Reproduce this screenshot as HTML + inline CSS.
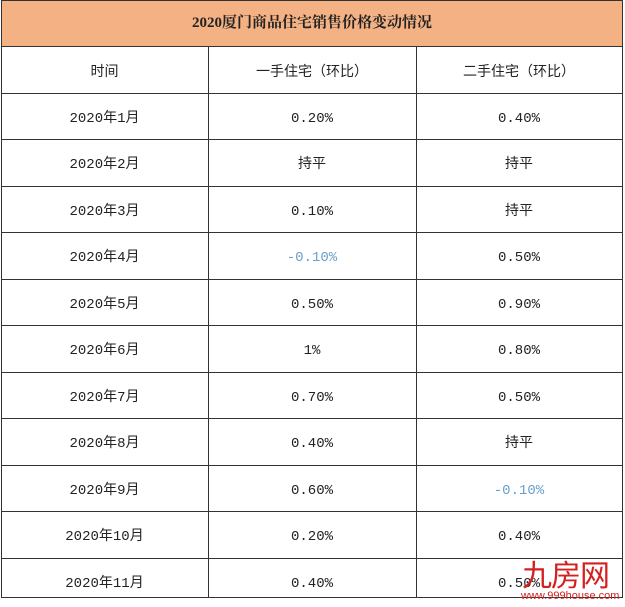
<!DOCTYPE html>
<html><head><meta charset="utf-8"><style>
body{margin:0;width:625px;height:607px;background:#fff;position:relative;overflow:hidden;font-family:"Liberation Mono","Noto Sans CJK SC",monospace;}
.hl{position:absolute;left:1px;width:621px;height:1px;background:#333;}
.vl{position:absolute;width:1px;background:#333;}
.t{position:absolute;text-align:center;font-size:14px;color:#222;line-height:20px;}
</style></head><body>
<div style="position:absolute;left:1px;top:1px;width:621px;height:45px;background:#F4B183"></div>
<div class="t" style="left:0;width:624px;top:13px;font-weight:bold;font-size:15px;color:#222;font-family:'Liberation Serif','Noto Serif CJK SC',serif">2020厦门商品住宅销售价格变动情况</div>
<div class="hl" style="top:0"></div>
<div class="hl" style="top:46px"></div>
<div class="hl" style="top:93px"></div>
<div class="hl" style="top:139px"></div>
<div class="hl" style="top:186px"></div>
<div class="hl" style="top:232px"></div>
<div class="hl" style="top:279px"></div>
<div class="hl" style="top:325px"></div>
<div class="hl" style="top:372px"></div>
<div class="hl" style="top:418px"></div>
<div class="hl" style="top:465px"></div>
<div class="hl" style="top:511px"></div>
<div class="hl" style="top:558px"></div>
<div class="hl" style="top:597px"></div>
<div class="vl" style="left:1px;top:0;height:598px"></div>
<div class="vl" style="left:622px;top:0;height:598px"></div>
<div class="vl" style="left:208px;top:46px;height:552px"></div>
<div class="vl" style="left:416px;top:46px;height:552px"></div>
<div id="c"></div>
<script>
var rows=[["时间","一手住宅（环比）","二手住宅（环比）"],["2020年1月","0.20%","0.40%"],["2020年2月","持平","持平"],["2020年3月","0.10%","持平"],["2020年4月","-0.10%","0.50%"],["2020年5月","0.50%","0.90%"],["2020年6月","1%","0.80%"],["2020年7月","0.70%","0.50%"],["2020年8月","0.40%","持平"],["2020年9月","0.60%","-0.10%"],["2020年10月","0.20%","0.40%"],["2020年11月","0.40%","0.50%"]];
var xs=[[1,208],[208,416],[416,622]],h="";
rows.forEach(function(r,i){var top=46+i*46.5+16+(i==0?1:0);r.forEach(function(v,j){var col=v.charAt(0)=="-"?"#6a9fc9":"#222";h+='<div class="t" style="left:'+xs[j][0]+'px;width:'+(xs[j][1]-xs[j][0])+'px;top:'+top+'px;color:'+col+'">'+v+'</div>';});});
document.getElementById("c").innerHTML=h;
</script>
<div style="position:absolute;left:522px;top:557px;font-family:'Noto Sans CJK SC',sans-serif;font-size:30px;color:#d42020;line-height:32px;letter-spacing:-1px">九房网</div>
<div style="position:absolute;left:521px;top:590px;font-family:'Liberation Sans',sans-serif;font-size:11px;color:#d42020;line-height:12px">www.999house.com</div>
</body></html>
